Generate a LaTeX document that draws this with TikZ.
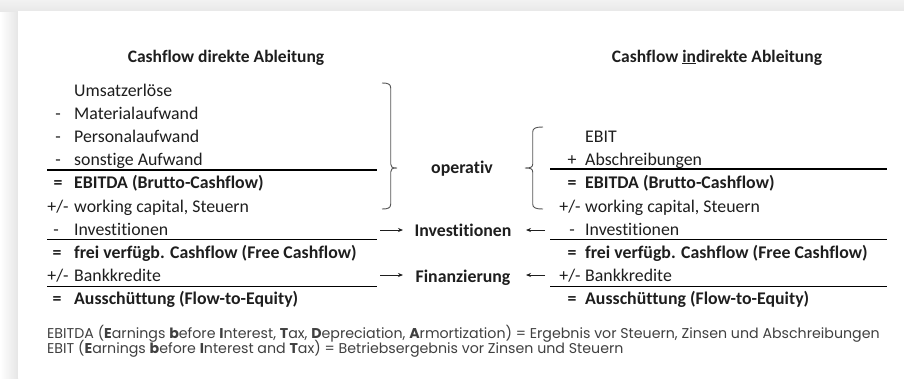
\documentclass[tikz,border=0pt]{standalone}
\usepackage{fontspec}
\setmainfont{Carlito}[Ligatures=CommonOff]
\newfontfamily\notefont{Poppins}
\usetikzlibrary{arrows.meta}
\definecolor{ink}{HTML}{1E1E1E}
\definecolor{brk}{HTML}{555555}
\begin{document}
\begin{tikzpicture}[x=1pt,y=-1pt,
  font=\fontsize{17.8}{20}\selectfont,
  txt/.style={anchor=base west, inner sep=0pt, text=ink},
  btxt/.style={txt, font=\fontsize{17.8}{20}\selectfont\bfseries},
  sgn/.style={anchor=base, inner sep=0pt, text=ink},
  bsgn/.style={sgn, font=\fontsize{17.8}{20}\selectfont\bfseries},
  mid/.style={anchor=base, inner sep=0pt, text=ink, font=\fontsize{17.8}{20}\selectfont\bfseries},
  ttl/.style={anchor=base, inner sep=0pt, text=ink, font=\fontsize{17.5}{20}\selectfont\bfseries},
  rule/.style={draw=black, line width=1.1pt},
  brace/.style={draw=brk, line width=0.9pt},
  arr/.style={draw=ink, line width=0.8pt, -{Stealth[length=5pt,width=4pt]}},
  note/.style={anchor=base west, inner sep=0pt, text=ink!85, font=\notefont\fontsize{14.2}{16}\selectfont}
]
% background / card
\fill[gray!14] (0,0) rectangle (904,378);
\shade[left color=white, right color=gray!20] (0,11) rectangle (18,378);
\shade[top color=gray!10, bottom color=gray!18] (0,0) rectangle (904,11);
\fill[white] (18,11) rectangle (904,378);
\useasboundingbox (0,0) rectangle (904,378);

% titles
\node[ttl] (tL) at (226,62) {Cashflow direkte Ableitung};
\node[ttl] (tR) at (717,62) {Cashflow \underline{in}direkte Ableitung};

% left column
\def\sx{58}\def\tx{74}
\node[txt] (l1) at (\tx,96) {Umsatzerlöse};
\node[sgn] (s2) at (\sx,119.2) {-};  \node[txt] (l2) at (\tx,119.2) {Materialaufwand};
\node[sgn] (s3) at (\sx,142.4) {-};  \node[txt] (l3) at (\tx,142.4) {Personalaufwand};
\node[sgn] (s4) at (\sx,165.6) {-};  \node[txt] (l4) at (\tx,165.6) {sonstige Aufwand};
\node[bsgn] (s5) at (\sx,188.8) {=};  \node[btxt] (l5) at (\tx,188.8) {EBITDA (Brutto-Cashflow)};
\node[sgn] (s6) at (\sx,212) {+/-};  \node[txt] (l6) at (\tx,212) {working capital, Steuern};
\node[sgn] (s7) at (\sx-2,235.2) {-};  \node[txt] (l7) at (\tx,235.2) {Investitionen};
\node[bsgn] (s8) at (\sx-1,258.4) {=};  \node[btxt] (l8) at (\tx,258.4) {frei verfügb. Cashflow (Free Cashflow)};
\node[sgn] (s9) at (\sx,281.6) {+/-};  \node[txt] (l9) at (\tx,281.6) {Bankkredite};
\node[bsgn] (s10) at (\sx-1,304.8) {=};  \node[btxt] (l10) at (\tx,304.8) {Ausschüttung (Flow-to-Equity)};

\coordinate (lA) at (47,170);   \coordinate (lB) at (377,170);
\coordinate (lC) at (47,239.7); \coordinate (lD) at (377,239.7);
\coordinate (lE) at (47,286.5); \coordinate (lF) at (377,286.5);
\draw[rule] (lA) -- (lB);
\draw[rule] (lC) -- (lD);
\draw[rule] (lE) -- (lF);

% right column
\def\rsx{572}\def\rtx{585}
\node[txt] (r3) at (\rtx,142.4) {EBIT};
\node[sgn] (q4) at (\rsx,165.6) {+};  \node[txt] (r4) at (\rtx,165.6) {Abschreibungen};
\node[bsgn] (q5) at (\rsx,188.8) {=};  \node[btxt] (r5) at (\rtx,188.8) {EBITDA (Brutto-Cashflow)};
\node[sgn] (q6) at (\rsx-2,212) {+/-};  \node[txt] (r6) at (\rtx,212) {working capital, Steuern};
\node[sgn] (q7) at (\rsx,235.2) {-};  \node[txt] (r7) at (\rtx,235.2) {Investitionen};
\node[bsgn] (q8) at (\rsx,258.4) {=};  \node[btxt] (r8) at (\rtx,258.4) {frei verfügb. Cashflow (Free Cashflow)};
\node[sgn] (q9) at (\rsx-2,281.6) {+/-};  \node[txt] (r9) at (\rtx,281.6) {Bankkredite};
\node[bsgn] (q10) at (\rsx,304.8) {=};  \node[btxt] (r10) at (\rtx,304.8) {Ausschüttung (Flow-to-Equity)};

\coordinate (rA) at (550,169);   \coordinate (rB) at (887,169);
\coordinate (rC) at (550,239.7); \coordinate (rD) at (887,239.7);
\coordinate (rE) at (550,286.5); \coordinate (rF) at (887,286.5);
\draw[rule] (rA) -- (rB);
\draw[rule] (rC) -- (rD);
\draw[rule] (rE) -- (rF);

% middle labels
\node[mid] (mOp) at (462,173) {operativ};
\node[mid] (mInv) at (463,236) {Investitionen};
\node[mid] (mFin) at (463,282) {Finanzierung};

% braces
\draw[brace] (382,83) .. controls (388,83) and (390.7,84) .. (390.7,88)
  -- (390.7,164) .. controls (390.7,167) and (392,168) .. (397,168)
  .. controls (392,168) and (390.7,169) .. (390.7,172)
  -- (390.7,204) .. controls (390.7,208) and (388,209) .. (382,209);
\draw[brace] (543,127) .. controls (536,127) and (532.7,128) .. (532.7,132)
  -- (532.7,164) .. controls (532.7,167) and (531,168) .. (525,168)
  .. controls (531,168) and (532.7,169) .. (532.7,172)
  -- (532.7,204) .. controls (532.7,208) and (536,209) .. (543,209);

% arrows
\coordinate (aL1) at (380,230); \coordinate (aL1e) at (403,230);
\coordinate (aR1) at (545,230); \coordinate (aR1e) at (526,230);
\coordinate (aL2) at (380,275); \coordinate (aL2e) at (403,275);
\coordinate (aR2) at (545,275); \coordinate (aR2e) at (526,275);
\draw[arr] (aL1) -- (aL1e);
\draw[arr] (aR1) -- (aR1e);
\draw[arr] (aL2) -- (aL2e);
\draw[arr] (aR2) -- (aR2e);

% footnotes
\node[note] (n1) at (47,338) {EBITDA (\textbf{E}arnings \textbf{b}efore \textbf{I}nterest, \textbf{T}ax, \textbf{D}epreciation, \textbf{A}rmortization) = Ergebnis vor Steuern, Zinsen und Abschreibungen};
\node[note] (n2) at (47,353) {EBIT (\textbf{E}arnings \textbf{b}efore \textbf{I}nterest and \textbf{T}ax) = Betriebsergebnis vor Zinsen und Steuern};
\end{tikzpicture}
\end{document}
